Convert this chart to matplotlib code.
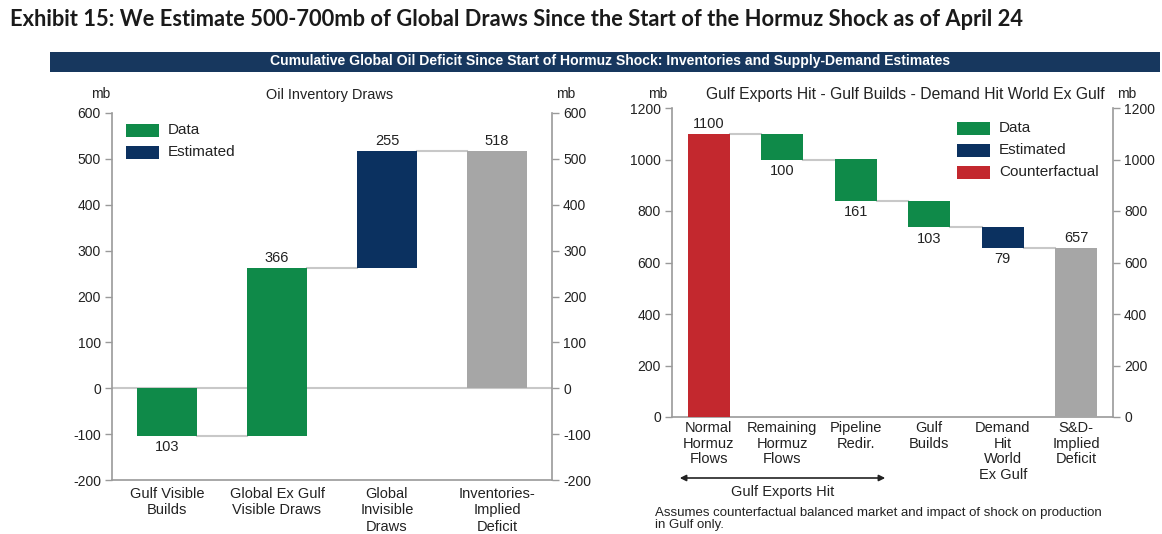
import matplotlib
matplotlib.use("Agg")
import matplotlib.pyplot as plt
from matplotlib.patches import Rectangle, FancyArrowPatch

# ---- data ----
inv_categories = ["Gulf Visible\nBuilds", "Global Ex Gulf\nVisible Draws",
                  "Global\nInvisible\nDraws", "Inventories-\nImplied\nDeficit"]
inv_changes = [-103, 366, 255]          # step contributions (mb)
inv_total = 518                          # implied deficit (mb)
inv_kinds = ["Data", "Data", "Estimated", "Total"]
inv_labels = ["103", "366", "255", "518"]

sd_categories = ["Normal\nHormuz\nFlows", "Remaining\nHormuz\nFlows", "Pipeline\nRedir.",
                 "Gulf\nBuilds", "Demand\nHit\nWorld\nEx Gulf", "S&D-\nImplied\nDeficit"]
sd_start = 1100                          # counterfactual flows (mb)
sd_changes = [-100, -161, -103, -79]     # step reductions (mb)
sd_total = 657                           # S&D implied deficit (mb)
sd_kinds = ["Counterfactual", "Data", "Data", "Data", "Estimated", "Total"]
sd_labels = ["1100", "100", "161", "103", "79", "657"]

left_ticks = [-200, -100, 0, 100, 200, 300, 400, 500, 600]
right_ticks = [0, 200, 400, 600, 800, 1000, 1200]

COLORS = {"Data": "#0f8a49", "Estimated": "#0b3160",
          "Counterfactual": "#c3282e", "Total": "#a6a6a6"}
SPINE = "#9a9a9a"
CONNECT = "#c8c8c8"
TXT = "#222222"
FONT = "Liberation Sans"
FS = 10.5      # general chart text
TFS = 10       # tick labels

plt.rcParams["axes.unicode_minus"] = False

W, H = 1162, 534
fig = plt.figure(figsize=(W / 100, H / 100), dpi=100)
fig.patch.set_facecolor("white")


def fx(px):
    return px / W


def fy(py):
    return 1 - py / H


def axes_px(x0, x1, ytop, ybot):
    return fig.add_axes([fx(x0), fy(ybot), fx(x1) - fx(x0), fy(ytop) - fy(ybot)])


def fit_text(x, y, s, width_px, **kw):
    t = fig.text(x, y, s, **kw)
    fig.canvas.draw()
    bb = t.get_window_extent()
    t.set_fontsize(t.get_fontsize() * width_px / bb.width)
    return t


def style_axes(ax, ticks, ylim):
    ax.set_ylim(*ylim)
    ax.set_yticks(ticks)
    ax.tick_params(axis="y", which="both", left=True, right=True, labelleft=True,
                   labelright=True, direction="out", length=5, width=1,
                   color=SPINE, labelsize=TFS, labelcolor=TXT, pad=3)
    ax.tick_params(axis="x", length=0, labelsize=FS, labelcolor=TXT)
    for s in ["left", "right", "bottom"]:
        ax.spines[s].set_color(SPINE)
        ax.spines[s].set_linewidth(1.2)
    ax.spines["top"].set_visible(False)
    for lab in ax.get_yticklabels() + ax.get_xticklabels():
        lab.set_fontfamily(FONT)


def label(ax, x, y, s, above):
    ax.annotate(s, (x, y), xytext=(0, 2 if above else -3), textcoords="offset points",
                ha="center", va="bottom" if above else "top",
                fontsize=FS, family=FONT, color=TXT)


# ---- title and banner ----
fit_text(fx(10), fy(20), "Exhibit 15: We Estimate 500-700mb of Global Draws Since the Start of the Hormuz Shock as of April 24",
         1015, fontsize=14, fontweight="bold", family="Lato", color="#1a1a1a", va="center", ha="left")
fig.patches.append(Rectangle((fx(50), fy(72)), fx(1160) - fx(50), fy(52) - fy(72),
                             transform=fig.transFigure, facecolor="#17375e", edgecolor="none"))
fit_text(fx(610), fy(61.5), "Cumulative Global Oil Deficit Since Start of Hormuz Shock: Inventories and Supply-Demand Estimates",
         684, fontsize=8, fontweight="bold", family=FONT, color="white", va="center", ha="center")

# ---- left panel: inventory draws ----
axL = axes_px(112, 552, 113, 480)
style_axes(axL, left_ticks, (-200, 600))
axL.set_xlim(-0.5, 3.5)
bw = 0.55
level = 0
tops = []
for i, ch in enumerate(inv_changes):
    bottom = level if ch >= 0 else level + ch
    axL.bar(i, abs(ch), bottom=bottom, width=bw, color=COLORS[inv_kinds[i]], zorder=3)
    level += ch
    tops.append(level)
axL.bar(3, inv_total, bottom=0, width=bw, color=COLORS["Total"], zorder=3)
axL.axhline(0, color=CONNECT, lw=1.5, zorder=1)
for i, lv in enumerate(tops):
    axL.plot([i + bw / 2, i + 1 - bw / 2], [lv, lv], color=CONNECT, lw=1.5, zorder=2)
label(axL, 0, tops[0], inv_labels[0], above=False)
label(axL, 1, tops[1], inv_labels[1], above=True)
label(axL, 2, tops[2], inv_labels[2], above=True)
label(axL, 3, inv_total, inv_labels[3], above=True)
axL.set_xticks(range(4))
axL.set_xticklabels(inv_categories, fontsize=FS, family=FONT, color=TXT, linespacing=1.22)
axL.tick_params(axis="x", pad=5)

# ---- right panel: supply-demand ----
axR = axes_px(672, 1113, 108, 417)
style_axes(axR, right_ticks, (0, 1200))
axR.set_xlim(-0.5, 5.5)
bw2 = 0.57
axR.bar(0, sd_start, width=bw2, color=COLORS["Counterfactual"], zorder=3)
level = sd_start
levels = [level]
for j, ch in enumerate(sd_changes):
    axR.bar(j + 1, -ch, bottom=level + ch, width=bw2, color=COLORS[sd_kinds[j + 1]], zorder=3)
    level += ch
    levels.append(level)
axR.bar(5, sd_total, width=bw2, color=COLORS["Total"], zorder=3)
for i, lv in enumerate(levels):
    axR.plot([i + bw2 / 2, i + 1 - bw2 / 2], [lv, lv], color=CONNECT, lw=1.5, zorder=2)
label(axR, 0, sd_start, sd_labels[0], above=True)
for j in range(4):
    label(axR, j + 1, levels[j + 1], sd_labels[j + 1], above=False)
label(axR, 5, sd_total, sd_labels[5], above=True)
axR.set_xticks(range(6))
axR.set_xticklabels(sd_categories, fontsize=FS, family=FONT, color=TXT, linespacing=1.15, va="top")
axR.tick_params(axis="x", pad=3)

# ---- panel headings and units ----
fit_text(fx(330), fy(95), "Oil Inventory Draws", 128,
         ha="center", va="center", fontsize=FS, family=FONT, color=TXT)
fit_text(fx(905), fy(95), "Gulf Exports Hit - Gulf Builds - Demand Hit World Ex Gulf", 405,
         ha="center", va="center", fontsize=FS, family=FONT, color=TXT)
for x in [101, 566, 658, 1127]:
    fig.text(fx(x), fy(94), "mb", ha="center", va="center", fontsize=TFS, family=FONT, color=TXT)


# ---- legends ----
def legend(x, y0, items):
    for k, name in enumerate(items):
        y = y0 + 22 * k
        fig.patches.append(Rectangle((fx(x), fy(y + 6.5)), fx(33), 13 / H,
                                     transform=fig.transFigure, facecolor=COLORS[name],
                                     edgecolor="none"))
        fig.text(fx(x + 42), fy(y), name, ha="left", va="center", fontsize=FS + 0.5,
                 family=FONT, color=TXT)


legend(126, 130, ["Data", "Estimated"])
legend(957, 128, ["Data", "Estimated", "Counterfactual"])

# ---- arrow and note ----
fig.add_artist(FancyArrowPatch(
    (fx(677), fy(478)), (fx(888), fy(478)), transform=fig.transFigure,
    arrowstyle="<|-|>", mutation_scale=9, color="#222222", lw=1.2))
fig.text(fx(783), fy(492), "Gulf Exports Hit", ha="center", va="center",
         fontsize=FS, family=FONT, color=TXT)
note = fit_text(fx(655), fy(513), "Assumes counterfactual balanced market and impact of shock on production",
                453, ha="left", va="center", fontsize=8, family=FONT, color=TXT)
fig.text(fx(655), fy(525), "in Gulf only.", ha="left", va="center",
         fontsize=note.get_fontsize(), family=FONT, color=TXT)

fig.savefig("out.png", dpi=100)
